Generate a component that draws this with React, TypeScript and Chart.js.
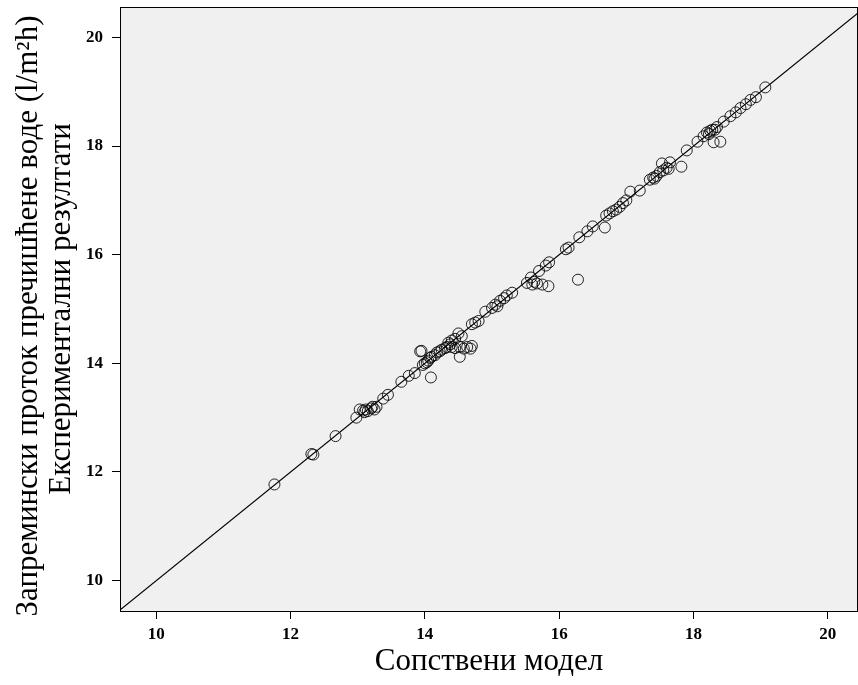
import React, { useEffect, useRef } from "react";
import { Chart, registerables } from "chart.js";

Chart.register(...registerables);

// Сопствени модел (x) vs Експериментални резултати (y)
const modelValues = [
  11.76, 12.31, 12.34, 12.67, 12.98,
  13.03, 13.08, 13.12, 13.15, 13.2, 13.25, 13.22, 13.1, 13.28,
  13.38, 13.45, 13.65, 13.76, 13.85,
  13.93, 13.95, 13.97, 14.0, 14.03, 14.05, 14.08, 14.1, 14.09,
  14.15, 14.18, 14.22, 14.25, 14.3, 14.33, 14.35, 14.38, 14.4, 14.45,
  14.4, 14.45, 14.52, 14.58, 14.63, 14.68, 14.7,
  14.52, 14.5, 14.55,
  14.7, 14.75, 14.8,
  14.9, 15.0, 15.05, 15.08, 15.12, 15.18, 15.22, 15.3,
  15.52, 15.58, 15.6, 15.63, 15.67, 15.7, 15.75, 15.8, 15.84, 15.85,
  16.1, 16.14, 16.28, 16.3, 16.42, 16.5,
  16.68, 16.7, 16.75, 16.8, 16.85, 16.9, 16.95, 17.0, 17.06, 17.2,
  17.35, 17.4, 17.42, 17.45, 17.5, 17.53, 17.55, 17.6, 17.65, 17.63, 17.82, 17.9,
  18.06, 18.15, 18.2, 18.23, 18.25, 18.28, 18.32, 18.3, 18.4, 18.35,
  18.45, 18.55, 18.63, 18.7, 18.78, 18.85, 18.93, 19.07,
];

const experimentalValues = [
  11.77, 12.33, 12.32, 12.66, 13.0,
  13.15, 13.13, 13.15, 13.12, 13.17, 13.15, 13.2, 13.1, 13.2,
  13.35, 13.42, 13.66, 13.77, 13.82,
  14.22, 14.23, 13.97, 14.0, 14.02, 14.05, 14.1, 14.12, 13.74,
  14.15, 14.2, 14.22, 14.25, 14.28, 14.3, 14.38, 14.35, 14.42, 14.45,
  14.3, 14.28, 14.3, 14.27, 14.3, 14.27, 14.32,
  14.12, 14.55, 14.5,
  14.72, 14.75, 14.78,
  14.95, 15.02, 15.08, 15.05, 15.15, 15.2, 15.25, 15.3,
  15.48, 15.58, 15.45, 15.5, 15.47, 15.7, 15.45, 15.8, 15.42, 15.86,
  16.1, 16.13, 15.54, 16.32, 16.43, 16.52,
  16.5, 16.72, 16.76, 16.8, 16.83, 16.88, 16.95, 17.0, 17.16, 17.18,
  17.38, 17.42, 17.4, 17.45, 17.52, 17.68, 17.55, 17.6, 17.7, 17.58, 17.62, 17.92,
  18.08, 18.18, 18.25, 18.22, 18.28, 18.3, 18.3, 18.07, 18.08, 18.35,
  18.45, 18.55, 18.62, 18.7, 18.77, 18.85, 18.9, 19.08,
];

const xTicks = [10, 12, 14, 16, 18, 20];
const yTicks = [10, 12, 14, 16, 18, 20];
const xRange = [9.46, 20.45];
const yRange = [9.44, 20.56];
const identityLine = [8, 22];

const xTitle = "Сопствени модел";
const yTitleLines = [
  "Запремински проток пречишћене воде (l/m²h)",
  "Експериментални резултати",
];

const frameAndTitles = {
  id: "frameAndTitles",
  beforeDatasetsDraw(chart: any) {
    const { ctx, chartArea: a } = chart;
    ctx.save();
    ctx.fillStyle = "#f0f0f0";
    ctx.fillRect(a.left, a.top, a.right - a.left, a.bottom - a.top);
    ctx.restore();
  },
  afterDraw(chart: any) {
    const { ctx, chartArea: a } = chart;
    ctx.save();
    ctx.strokeStyle = "#000";
    ctx.lineWidth = 1;
    ctx.strokeRect(a.left + 0.5, a.top + 0.5, a.right - a.left - 1, a.bottom - a.top);
    ctx.fillStyle = "#000";
    ctx.textAlign = "center";
    ctx.textBaseline = "middle";
    ctx.font = '31px "Liberation Serif"';
    ctx.fillText(xTitle, (a.left + a.right) / 2, 662);
    const xs = [29, 62];
    const cys = [316, 309];
    yTitleLines.forEach((line, i) => {
      ctx.save();
      ctx.translate(xs[i], cys[i]);
      ctx.rotate(-Math.PI / 2);
      ctx.fillText(line, 0, 0);
      ctx.restore();
    });
    ctx.restore();
  },
};

const zeroPad = (s: any) => {
  s.paddingLeft = 0;
  s.paddingRight = 0;
  s.paddingTop = 0;
  s.paddingBottom = 0;
};

export default function App() {
  const ref = useRef<HTMLCanvasElement | null>(null);

  useEffect(() => {
    if (!ref.current) return;
    const points = modelValues.map((x, i) => ({ x, y: experimentalValues[i] }));
    const tickFont = { family: "Liberation Serif", size: 17, weight: "bold" as const };
    const chart = new Chart(ref.current, {
      type: "scatter",
      data: {
        datasets: [
          {
            type: "line",
            data: identityLine.map((v) => ({ x: v, y: v })),
            borderColor: "#000",
            borderWidth: 1.2,
            pointRadius: 0,
            fill: false,
          } as any,
          {
            data: points,
            pointStyle: "circle",
            pointRadius: 5.5,
            borderColor: "rgba(0,0,0,0.85)",
            borderWidth: 1,
            backgroundColor: "rgba(0,0,0,0)",
          },
        ],
      },
      plugins: [frameAndTitles],
      options: {
        animation: false,
        responsive: false,
        layout: { autoPadding: false, padding: { top: 7, right: 0, left: 0, bottom: 0 } },
        plugins: { legend: { display: false }, tooltip: { enabled: false } },
        scales: {
          x: {
            type: "linear",
            min: xRange[0],
            max: xRange[1],
            afterBuildTicks: (s: any) => {
              s.ticks = xTicks.map((v) => ({ value: v }));
            },
            afterFit: (s: any) => {
              s.height = 74;
              zeroPad(s);
            },
            grid: { display: true, drawOnChartArea: false, drawTicks: true, tickLength: 8, color: "#000" },
            border: { display: true, color: "#000", width: 1 },
            ticks: { color: "#000", font: tickFont, padding: 5, maxRotation: 0 },
          },
          y: {
            type: "linear",
            min: yRange[0],
            max: yRange[1],
            afterBuildTicks: (s: any) => {
              s.ticks = yTicks.map((v) => ({ value: v }));
            },
            afterFit: (s: any) => {
              s.width = 120;
              zeroPad(s);
            },
            grid: { display: true, drawOnChartArea: false, drawTicks: true, tickLength: 8, color: "#000" },
            border: { display: true, color: "#000", width: 1 },
            ticks: { color: "#000", font: tickFont, padding: 9 },
          },
        },
      },
    });
    return () => chart.destroy();
  }, []);

  return (
    <div style={{ position: "absolute", left: 0, top: 0, width: 858, height: 685, background: "#fff" }}>
      <canvas ref={ref} width={858} height={685} style={{ display: "block" }} />
    </div>
  );
}
